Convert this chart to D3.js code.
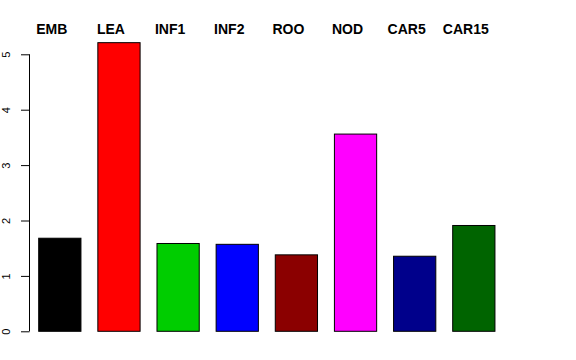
<!DOCTYPE html>
<html>
<head>
<meta charset="utf-8">
<script src="https://cdn.jsdelivr.net/npm/d3@7"></script>
<style>
  html, body { margin: 0; padding: 0; background: #fff; }
  svg { display: block; }
</style>
</head>
<body>
<svg id="chart" width="576" height="360"></svg>
<script>
const categories = ["EMB", "LEA", "INF1", "INF2", "ROO", "NOD", "CAR5", "CAR15"];
const values = [1.68, 5.21, 1.585, 1.57, 1.38, 3.56, 1.355, 1.91];
const colors = ["#000000", "#FF0000", "#00CD00", "#0000FF", "#8B0000", "#FF00FF", "#00008B", "#006400"];
const yTicks = [0, 1, 2, 3, 4, 5];

const svg = d3.select("#chart");
const font = "'Liberation Sans', Arial, Helvetica, sans-serif";

const x = d3.scaleBand()
  .domain(categories)
  .range([30.25, 503.4])
  .paddingInner(0.2857)
  .paddingOuter(0.1429);

const y = d3.scaleLinear().domain([0, 5]).range([331.3, 54.3]);

// bars
svg.append("g").selectAll("rect")
  .data(categories)
  .join("rect")
  .attr("x", d => x(d))
  .attr("y", (d, i) => y(values[i]))
  .attr("width", x.bandwidth())
  .attr("height", (d, i) => y(0) - y(values[i]))
  .attr("fill", (d, i) => colors[i])
  .attr("stroke", "#000")
  .attr("stroke-width", 1);

// y axis
const yAxis = d3.axisLeft(y).tickValues(yTicks).tickSize(8.5).tickPadding(0).tickFormat(d3.format("d"));
const ax = svg.append("g").attr("transform", "translate(29.5,0)").call(yAxis);
ax.select(".domain").attr("stroke", "#000").attr("d", `M0,${y(0)}V${y(5)}`);
ax.selectAll(".tick line").attr("stroke", "#000");
ax.selectAll(".tick text")
  .attr("x", null).attr("dy", null)
  .attr("transform", "translate(-19.8,0) rotate(-90)")
  .attr("text-anchor", "middle")
  .attr("font-family", font)
  .attr("font-size", 11)
  .attr("fill", "#000");

// top labels
svg.append("g").selectAll("text")
  .data(categories)
  .join("text")
  .attr("x", d => x(d) + x.bandwidth() / 2 - 8)
  .attr("y", 34)
  .attr("text-anchor", "middle")
  .attr("font-family", font)
  .attr("font-weight", "bold")
  .attr("font-size", 14)
  .attr("fill", "#000")
  .text(d => d);
</script>
</body>
</html>
